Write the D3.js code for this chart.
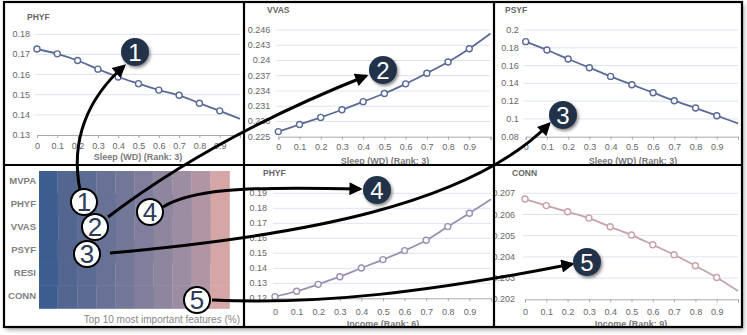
<!doctype html>
<html>
<head>
  <script src="https://d3js.org/d3.v7.min.js"></script>
  <style>
    body { margin: 0; background: #fff; }
    text { font-family: "Liberation Sans", Arial, sans-serif; }
  </style>
</head>
<body>
<script>
  // x grid shared by all the response curves
  var xs = [0, 0.1, 0.2, 0.3, 0.4, 0.5, 0.6, 0.7, 0.8, 0.9, 1];
  var xTicks = [0, 0.1, 0.2, 0.3, 0.4, 0.5, 0.6, 0.7, 0.8, 0.9];

  var phyfSleep  = [0.1727, 0.1703, 0.1670, 0.1627, 0.1588, 0.1555, 0.1523, 0.1497, 0.1458, 0.1420, 0.1380];
  var vvasSleep  = [0.2260, 0.2274, 0.2288, 0.2303, 0.2319, 0.2335, 0.2354, 0.2375, 0.2397, 0.2423, 0.2453];
  var psyfSleep  = [0.1869, 0.1775, 0.1674, 0.1576, 0.1478, 0.1385, 0.1295, 0.1205, 0.1122, 0.1036, 0.0950];
  var phyfIncome = [0.1211, 0.1247, 0.1293, 0.1344, 0.1402, 0.1458, 0.1518, 0.1587, 0.1678, 0.1767, 0.1860];
  var connIncome = [0.20673, 0.20642, 0.20613, 0.20583, 0.20542, 0.20503, 0.20457, 0.20410, 0.20358, 0.20303, 0.20239];

  var phyfTicks  = [0.13, 0.14, 0.15, 0.16, 0.17, 0.18];
  var vvasTicks  = [0.225, 0.228, 0.231, 0.234, 0.237, 0.24, 0.243, 0.246];
  var psyfTicks  = [0.08, 0.1, 0.12, 0.14, 0.16, 0.18, 0.2];
  var phyf2Ticks = [0.12, 0.13, 0.14, 0.15, 0.16, 0.17, 0.18, 0.19];
  var connTicks  = [0.202, 0.203, 0.204, 0.205, 0.206, 0.207];

  // heatmap: share (%) of each of the top 10 features per outcome
  var outcomes = ["MVPA", "PHYF", "VVAS", "PSYF", "RESI", "CONN"];
  var importance = [
    [9.6, 10.3, 10.2, 10.0, 10.0, 9.8, 10.0, 10.0, 10.1, 10.0],
    [9.8, 10.6, 10.1, 9.8, 10.2, 9.9, 9.9, 9.9, 9.9, 9.9],
    [10.2, 9.8, 10.4, 10.0, 9.7, 10.1, 9.9, 10.2, 9.8, 9.9],
    [9.4, 10.5, 10.3, 10.1, 9.9, 10.0, 10.2, 9.7, 10.0, 9.9],
    [9.9, 10.1, 9.8, 10.3, 10.1, 9.8, 10.0, 10.1, 9.9, 10.0],
    [9.7, 10.4, 10.0, 9.9, 10.2, 10.0, 9.8, 10.1, 9.9, 10.0]
  ];
  var rankColors = ["#3d5d90", "#52668f", "#5b6b92", "#677296", "#737899",
                    "#807e9c", "#8e859f", "#9d8da2", "#b096a5", "#d6a6a6"];

  var width = 747, height = 335;

  var svg = d3.select("body").append("svg")
    .attr("width", width)
    .attr("height", height);

  var defs = svg.append("defs");
  var sh = defs.append("filter").attr("id", "shadow")
    .attr("x", "-20%").attr("y", "-20%").attr("width", "140%").attr("height", "140%");
  sh.append("feDropShadow").attr("dx", 2).attr("dy", 3).attr("stdDeviation", 2)
    .attr("flood-color", "#000").attr("flood-opacity", 0.35);
  var sh2 = defs.append("filter").attr("id", "ballShadow")
    .attr("x", "-50%").attr("y", "-50%").attr("width", "200%").attr("height", "200%");
  sh2.append("feDropShadow").attr("dx", 1.5).attr("dy", 2).attr("stdDeviation", 1.5)
    .attr("flood-color", "#000").attr("flood-opacity", 0.45);
  defs.append("marker").attr("id", "head")
    .attr("viewBox", "0 0 10 10").attr("refX", 8).attr("refY", 5)
    .attr("markerWidth", 4.6).attr("markerHeight", 4.4)
    .attr("markerUnits", "strokeWidth").attr("orient", "auto")
    .append("path").attr("d", "M0,0 L10,5 L0,10 z").attr("fill", "#000");

  // frame with shadow
  svg.append("rect")
    .attr("x", 4).attr("y", 2).attr("width", 738).attr("height", 325)
    .attr("fill", "#fff").attr("filter", "url(#shadow)");

  // panel boxes
  var boxes = [
    [4, 2, 244, 165], [244, 2, 494, 165], [494, 2, 742, 165],
    [4, 165, 244, 327], [244, 165, 494, 327], [494, 165, 742, 327]
  ];
  boxes.forEach(function(b, i) {
    defs.append("clipPath").attr("id", "clip" + i)
      .append("rect").attr("x", b[0]).attr("y", b[1])
      .attr("width", b[2] - b[0]).attr("height", b[3] - b[1]);
  });

  var panels = [
    { box: 0, title: "PHYF", tx: 27, ty: 20, values: phyfSleep, ticks: phyfTicks,
      xr: [37, 240], yr: [135, 34.3], xlabel: "Sleep (WD) (Rank: 3)", xlx: 138, xly: 149, xtl: 160,
      color: "#5b6a96", tickOff: 7 },
    { box: 1, title: "VVAS", tx: 267, ty: 13, values: vvasSleep, ticks: vvasTicks,
      xr: [278.3, 490.5], yr: [136.7, 30], xlabel: "Sleep (WD) (Rank: 3)", xlx: 385, xly: 150, xtl: 164,
      color: "#5b6a96", tickOff: 8, fmt: d3.format(".3~f") },
    { box: 2, title: "PSYF", tx: 505, ty: 13, values: psyfSleep, ticks: psyfTicks,
      xr: [525.7, 738], yr: [136.7, 30], xlabel: "Sleep (WD) (Rank: 3)", xlx: 633, xly: 150, xtl: 164,
      color: "#5b6a96", tickOff: 7 },
    { box: 4, title: "PHYF", tx: 263, ty: 176, values: phyfIncome, ticks: phyf2Ticks,
      xr: [275, 491], yr: [298.3, 193.3], xlabel: "Income (Rank: 6)", xlx: 383, xly: 315, xtl: 327,
      color: "#9b8fb3", tickOff: 8 },
    { box: 5, title: "CONN", tx: 512, ty: 176, values: connIncome, ticks: connTicks,
      xr: [525, 738], yr: [299.3, 193.3], xlabel: "Income (Rank: 9)", xlx: 631, xly: 315, xtl: 327,
      color: "#c7a2aa", tickOff: 10, fmt: d3.format(".3f") }
  ];

  panels.forEach(function(p) {
    var g = svg.append("g").attr("clip-path", "url(#clip" + p.box + ")");
    var x = d3.scaleLinear().domain([0, 1]).range(p.xr);
    var y = d3.scaleLinear().domain(d3.extent(p.ticks)).range(p.yr);
    var fmt = p.fmt || function(d) { return String(+d.toFixed(3)); };

    // grid
    g.selectAll(".grid").data(p.ticks.slice(1)).enter().append("line")
      .attr("x1", p.xr[0] - 2).attr("x2", p.xr[1])
      .attr("y1", function(d) { return y(d); }).attr("y2", function(d) { return y(d); })
      .attr("stroke", "#dde3ee").attr("stroke-width", 1);

    // y labels
    g.selectAll(".yl").data(p.ticks).enter().append("text")
      .attr("x", p.xr[0] - p.tickOff).attr("y", function(d) { return y(d) + 3; })
      .attr("text-anchor", "end").attr("font-size", 9).attr("fill", "#666")
      .text(fmt);

    // x axis
    var axis = g.append("g").attr("transform", "translate(0," + p.yr[0] + ")")
      .call(d3.axisBottom(x).tickValues(xTicks.concat([1])).tickSize(3).tickFormat(function(d) {
        return d === 1 ? "" : String(d);
      }));
    axis.select(".domain").attr("stroke", "#a9a9a9");
    axis.selectAll(".tick line").attr("stroke", "#a9a9a9");
    axis.selectAll(".tick text").attr("font-size", 9).attr("fill", "#666").attr("dy", null)
      .attr("y", p.xly - p.yr[0]).attr("font-family", "Liberation Sans, Arial, sans-serif");

    g.append("text").attr("x", p.xlx).attr("y", p.xtl)
      .attr("text-anchor", "middle").attr("font-size", 9).attr("font-weight", "bold")
      .attr("fill", "#7a7a7a").text(p.xlabel);

    g.append("text").attr("x", p.tx).attr("y", p.ty)
      .attr("font-size", 8.5).attr("font-weight", "bold").attr("fill", "#666")
      .text(p.title);

    var line = d3.line()
      .x(function(d, i) { return x(xs[i]); })
      .y(function(d) { return y(d); })
      .curve(d3.curveMonotoneX);
    g.append("path").datum(p.values)
      .attr("d", line).attr("fill", "none")
      .attr("stroke", p.color).attr("stroke-width", 1.8);

    g.selectAll(".pt").data(p.values.slice(0, 10)).enter().append("circle")
      .attr("cx", function(d, i) { return x(xs[i]); })
      .attr("cy", function(d) { return y(d); })
      .attr("r", 3).attr("fill", "#fff")
      .attr("stroke", p.color).attr("stroke-width", 1.4);
  });

  // heatmap panel
  var hx = d3.scaleLinear().domain([0, 100]).range([39, 229.5]);
  var hy = d3.scaleBand().domain(outcomes).range([171, 308.5]);

  var rowG = svg.selectAll(".row").data(importance).enter().append("g");
  rowG.selectAll("rect").data(function(row, ri) {
    var acc = 0;
    return row.map(function(v, k) {
      var seg = { name: outcomes[ri], k: k, x0: acc, x1: acc + v };
      acc += v;
      return seg;
    });
  }).enter().append("rect")
    .attr("x", function(d) { return hx(d.x0); })
    .attr("width", function(d) { return hx(d.x1) - hx(d.x0) + 0.3; })
    .attr("y", function(d) { return hy(d.name); })
    .attr("height", hy.bandwidth() + 0.3)
    .attr("fill", function(d) { return rankColors[d.k]; });

  svg.selectAll(".rl").data(outcomes).enter().append("text")
    .attr("x", 36).attr("y", function(d) { return hy(d) + hy.bandwidth() / 2 + 1.5; })
    .attr("text-anchor", "end").attr("font-size", 9.5).attr("font-weight", "bold")
    .attr("fill", "#808080").text(function(d) { return d; });

  svg.append("text").attr("x", 240).attr("y", 323)
    .attr("text-anchor", "end").attr("font-size", 10).attr("fill", "#888")
    .text("Top 10 most important features (%)");

  // panel borders
  var border = svg.append("g").attr("stroke", "#000").attr("stroke-width", 2.2).attr("fill", "none");
  border.append("rect").attr("x", 4).attr("y", 2).attr("width", 738).attr("height", 325);
  border.append("line").attr("x1", 244).attr("x2", 244).attr("y1", 2).attr("y2", 327);
  border.append("line").attr("x1", 494).attr("x2", 494).attr("y1", 2).attr("y2", 327);
  border.append("line").attr("x1", 4).attr("x2", 742).attr("y1", 165).attr("y2", 165);

  // annotation arrows (curves from heatmap cells to the detail charts)
  var arrows = [
    [[80, 190], [70, 140], [88, 98], [124, 66]],
    [[108, 217], [150, 185], [230, 130], [366, 76]],
    [[110, 253], [300, 236], [470, 205], [549, 124]],
    [[163, 207], [190, 190], [240, 186], [360, 189]],
    [[212, 300], [320, 305], [430, 292], [572, 264]]
  ];
  svg.selectAll(".arrow").data(arrows).enter().append("path")
    .attr("d", function(a) {
      var p = d3.path();
      p.moveTo(a[0][0], a[0][1]);
      p.bezierCurveTo(a[1][0], a[1][1], a[2][0], a[2][1], a[3][0], a[3][1]);
      return p.toString();
    })
    .attr("fill", "none").attr("stroke", "#000").attr("stroke-width", 3)
    .attr("marker-end", "url(#head)");

  // white numbered markers on the heatmap
  var startBalls = [[84, 202, "1"], [95, 227, "2"], [87, 254, "3"], [150, 212, "4"], [197, 300, "5"]];
  var sb = svg.selectAll(".sb").data(startBalls).enter().append("g");
  sb.append("circle").attr("cx", function(d) { return d[0]; }).attr("cy", function(d) { return d[1]; })
    .attr("r", 13).attr("fill", "#fff").attr("stroke", "#000").attr("stroke-width", 2);
  sb.append("text").attr("x", function(d) { return d[0]; }).attr("y", function(d) { return d[1] + 9; })
    .attr("text-anchor", "middle").attr("font-size", 26).attr("fill", "#2d3a58")
    .attr("font-family", "DejaVu Sans, sans-serif").attr("font-weight", 300)
    .text(function(d) { return d[2]; });

  // dark numbered markers on the charts
  var endBalls = [[135, 52, "1"], [383, 70, "2"], [563, 115, "3"], [377, 190, "4"], [587, 262, "5"]];
  var eb = svg.selectAll(".eb").data(endBalls).enter().append("g");
  eb.append("circle").attr("cx", function(d) { return d[0]; }).attr("cy", function(d) { return d[1]; })
    .attr("r", 14).attr("fill", "#243249").attr("filter", "url(#ballShadow)");
  eb.append("text").attr("x", function(d) { return d[0]; }).attr("y", function(d) { return d[1] + 8.5; })
    .attr("text-anchor", "middle").attr("font-size", 24).attr("fill", "#fff")
    .text(function(d) { return d[2]; });
</script>
</body>
</html>
